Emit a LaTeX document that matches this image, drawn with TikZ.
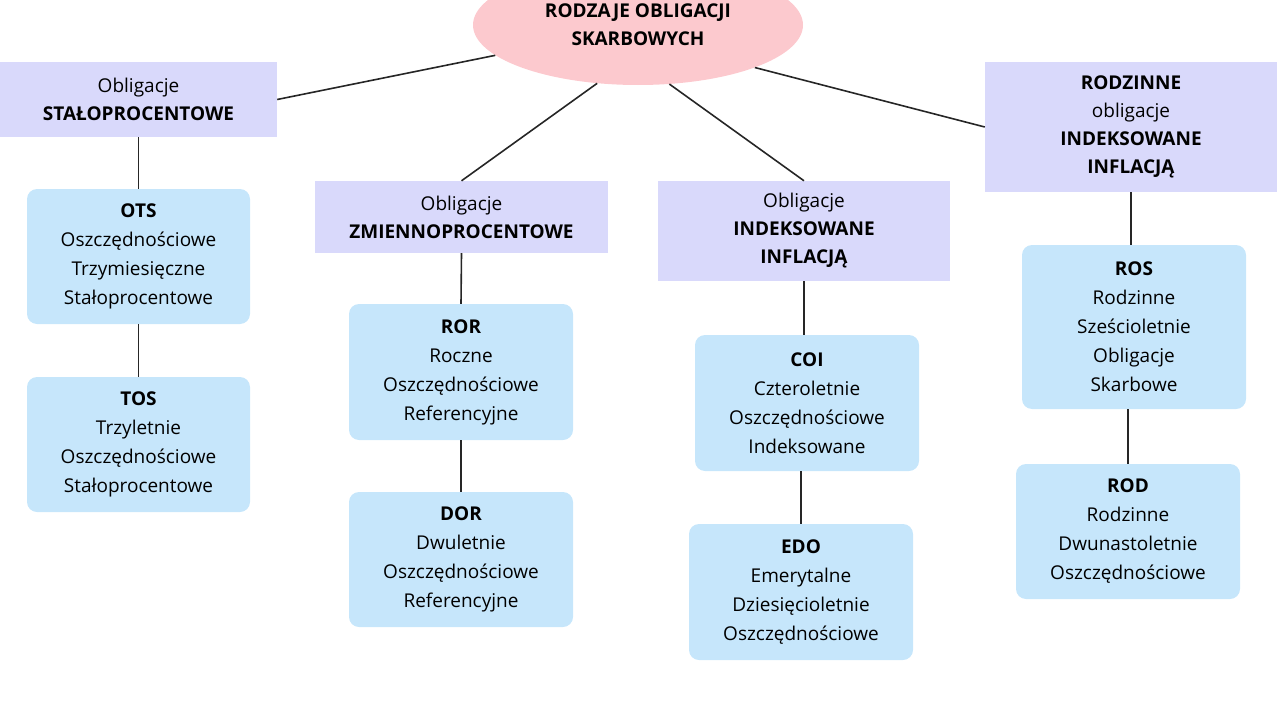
\documentclass[tikz,border=0pt]{standalone}
\usepackage{fontspec}
\setmainfont{Open Sans}
\usetikzlibrary{shapes.geometric}
\begin{document}
\begin{tikzpicture}[x=1pt,y=-1pt,
 cat/.style={fill=lav,draw=none,inner sep=0pt,align=center,font=\fontsize{19}{28}\selectfont},
 bx/.style={fill=blu,draw=none,rounded corners=10pt,inner sep=0pt,align=center,font=\fontsize{19}{29}\selectfont},
 ln/.style={line width=1.6pt,black!85}]
\definecolor{lav}{HTML}{D9D9FB}\definecolor{blu}{HTML}{C6E6FB}\definecolor{pnk}{HTML}{FCC9CE}
\useasboundingbox (0,0) rectangle (1280,720);
\node[ellipse,fill=pnk,minimum width=330,minimum height=120,inner sep=0pt,align=center,font=\fontsize{19}{28}\selectfont\bfseries] (top) at (638,25) {RODZAJE OBLIGACJI\\SKARBOWYCH};
\node[cat,minimum width=277,minimum height=75] (c1) at (138.5,99.5) {Obligacje\\\textbf{STAŁOPROCENTOWE}};
\node[cat,minimum width=293,minimum height=72] (c2) at (461.5,217) {Obligacje\\\textbf{ZMIENNOPROCENTOWE}};
\node[cat,minimum width=292,minimum height=100] (c3) at (804,231) {Obligacje\\\textbf{INDEKSOWANE}\\\textbf{INFLACJĄ}};
\node[cat,minimum width=292,minimum height=130] (c4) at (1131,127) {\textbf{RODZINNE}\\obligacje\\\textbf{INDEKSOWANE}\\\textbf{INFLACJĄ}};
\node[bx,minimum width=223,minimum height=135] (ots) at (138.5,256.5) {\textbf{OTS}\\Oszczędnościowe\\Trzymiesięczne\\Stałoprocentowe};
\node[bx,minimum width=223,minimum height=135] (tos) at (138.5,444.5) {\textbf{TOS}\\Trzyletnie\\Oszczędnościowe\\Stałoprocentowe};
\node[bx,minimum width=224,minimum height=136] (ror) at (461,372) {\textbf{ROR}\\Roczne\\Oszczędnościowe\\Referencyjne};
\node[bx,minimum width=224,minimum height=135] (dor) at (461,559.5) {\textbf{DOR}\\Dwuletnie\\Oszczędnościowe\\Referencyjne};
\node[bx,minimum width=224,minimum height=136] (coi) at (807,403) {\textbf{COI}\\Czteroletnie\\Oszczędnościowe\\Indeksowane};
\node[bx,minimum width=224,minimum height=136] (edo) at (801,592) {\textbf{EDO}\\Emerytalne\\Dziesięcioletnie\\Oszczędnościowe};
\node[bx,minimum width=224,minimum height=164] (ros) at (1134,327) {\textbf{ROS}\\Rodzinne\\Sześcioletnie\\Obligacje\\Skarbowe};
\node[bx,minimum width=224,minimum height=135] (rod) at (1128,531.5) {\textbf{ROD}\\Rodzinne\\Dwunastoletnie\\Oszczędnościowe};
\draw[ln] (top.192) -- (c1.east);
\draw[ln] (top.235) -- (c2.north);
\draw[ln] (top.298) -- (c3.north);
\draw[ln] (top.340) -- (c4.west);
\draw[ln] (c1.south) -- (ots.north);
\draw[ln] (ots.south) -- (tos.north);
\draw[ln] (c2.south) -- (ror.north);
\draw[ln] (ror.south) -- (dor.north);
\draw[ln] (c3.south) -- (coi.north -| c3.south);
\draw[ln] (coi.south) ++(-6,0) -- (edo.north);
\draw[ln] (c4.south) -- (ros.north -| c4.south);
\draw[ln] (ros.south) ++(-6,0) -- (rod.north);
\end{tikzpicture}
\end{document}
